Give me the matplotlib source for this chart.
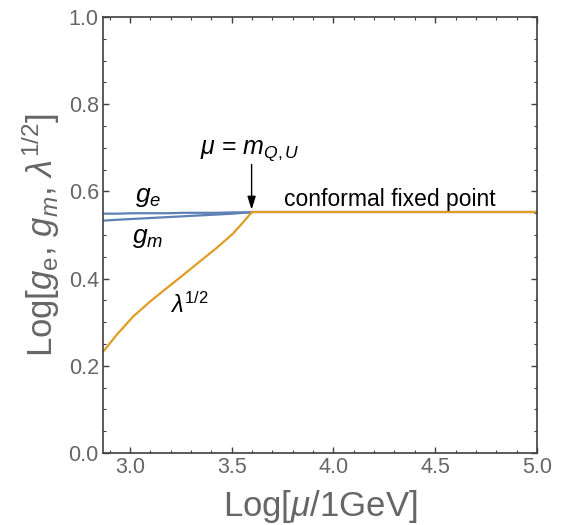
import matplotlib
matplotlib.use("Agg")
import matplotlib.pyplot as plt
from matplotlib.ticker import MultipleLocator

plt.rcParams['font.family'] = ['Liberation Sans', 'DejaVu Sans']
plt.rcParams['mathtext.fontset'] = 'custom'
plt.rcParams['mathtext.rm'] = 'Liberation Sans'
plt.rcParams['mathtext.it'] = 'Liberation Sans:italic'
plt.rcParams['mathtext.bf'] = 'Liberation Sans:bold'

# values
x_run = [2.868, 2.935, 3.016, 3.098, 3.18, 3.261, 3.343, 3.425, 3.506, 3.556, 3.598]
lam_half = [0.232, 0.271, 0.313, 0.347, 0.378, 0.408, 0.439, 0.470, 0.503, 0.529, 0.552]
g_e = [0.549, 0.549, 0.550, 0.550, 0.550, 0.551, 0.551, 0.551, 0.552, 0.552, 0.552]
g_m = [0.533, 0.535, 0.537, 0.539, 0.541, 0.543, 0.545, 0.547, 0.549, 0.551, 0.552]
x_fixed = [3.598, 5.00]
fixed_val = [0.552, 0.552]

blue = '#5E81B5'
orange = '#E19C24'
frame = '#404040'
grey = '#666666'

fig = plt.figure(figsize=(5.61, 5.25), dpi=100)
ax = fig.add_axes([0.1836, 0.137, 0.7736, 0.8306])

ax.plot(x_run, g_e, color=blue, lw=1.6)
ax.plot(x_run, g_m, color=blue, lw=1.6)
ax.plot(x_fixed, fixed_val, color=blue, lw=1.6)
ax.plot(x_run, lam_half, color=orange, lw=1.6)
ax.plot(x_fixed, fixed_val, color=orange, lw=1.6)

ax.set_xlim(2.868, 5.0)
ax.set_ylim(0.0, 1.0)
ax.xaxis.set_major_locator(MultipleLocator(0.5))
ax.xaxis.set_minor_locator(MultipleLocator(0.1))
ax.yaxis.set_major_locator(MultipleLocator(0.2))
ax.yaxis.set_minor_locator(MultipleLocator(0.05))
ax.xaxis.set_major_formatter(plt.FuncFormatter(lambda v, p: f"{v:.1f}"))
ax.yaxis.set_major_formatter(plt.FuncFormatter(lambda v, p: f"{v:.1f}"))

for s in ax.spines.values():
    s.set_color(frame)
    s.set_linewidth(1.2)
ax.tick_params(which='both', direction='in', top=True, right=True,
               color=frame, labelcolor=grey, labelsize=15.5, pad=3)
ax.tick_params(which='major', length=4.5, width=1.0)
ax.tick_params(which='minor', length=2.5, width=0.8)

# sits a little higher than the reference so the descenders are not cut off
ax.set_xlabel(r"Log[$\mu$/1GeV]", fontsize=25, color=grey, labelpad=7)
ax.set_ylabel(r"Log[$g_{\mathrm{e}}$, $g_m$, $\lambda^{1/2}$]", fontsize=25,
              color=grey, labelpad=5)

ax.text(3.088, 0.587, r"$g_e$", fontsize=19, ha='center', va='center')
ax.text(3.088, 0.493, r"$g_m$", fontsize=19, ha='center', va='center')
ax.text(3.294, 0.340, r"$\lambda^{1/2}$", fontsize=17, ha='center', va='center')
ax.text(3.588, 0.693, r"$\mu$ = $m_{Q,U}$", fontsize=18, ha='center', va='center')
ax.text(3.755, 0.566, "conformal fixed point", fontsize=16.5, ha='left',
        va='baseline')
ax.annotate("", xy=(3.598, 0.558), xytext=(3.598, 0.662),
            arrowprops=dict(arrowstyle='-|>,head_width=0.25,head_length=0.8',
                            color='black', lw=1.0, shrinkA=0, shrinkB=0))

fig.savefig("out.png", dpi=100)
